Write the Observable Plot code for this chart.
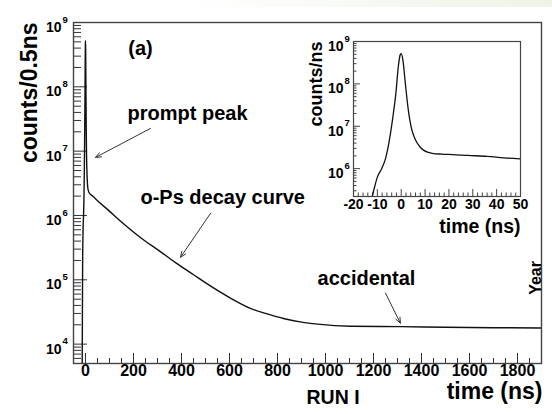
<!DOCTYPE html>
<html><head><meta charset="utf-8">
<script src="https://cdn.jsdelivr.net/npm/d3@7"></script>
<script src="https://cdn.jsdelivr.net/npm/@observablehq/plot@0.6"></script>
<style>
body{margin:0;background:#fff;}
#wrap{position:relative;width:552px;height:414px;overflow:hidden;}
#band{position:absolute;left:0;top:0;width:552px;height:7px;background:linear-gradient(to right,#ffffff 35%,#eef3e6);}
#main{position:absolute;left:0;top:0;}
#inset{position:absolute;left:300px;top:0;}
</style></head><body>
<div id="wrap"><div id="band"></div><div id="main"></div><div id="inset"></div></div>
<script>
// ---- data ----
const mainTime = [-14, -12, -10, -8, -6.5, -5, -3.6, -2.2, -1.2, -0.4, 0, 0.7, 1.7, 2.9, 4.3, 6.5, 9.5, 14, 30, 50, 96, 150, 237, 300, 375, 450, 512, 604, 687, 750, 825, 900, 967, 1104, 1312, 1500, 1700, 1900];
const mainCounts = [3e3, 1.8e5, 6.3e5, 1.05e6, 1.8e6, 4.6e6, 1.5e7, 6.3e7, 2.6e8, 4.9e8, 5.2e8, 3.7e8, 1.07e8, 2.6e7, 8.9e6, 4.2e6, 2.7e6, 2.3e6, 2.0e6, 1.7e6, 1.2e6, 7.9e5, 4.3e5, 2.95e5, 1.85e5, 1.2e5, 8.4e4, 5.2e4, 3.6e4, 3.0e4, 2.5e4, 2.2e4, 2.05e4, 1.9e4, 1.87e4, 1.83e4, 1.8e4, 1.78e4];
const insetTime = [-12.5, -11, -10, -8, -6.5, -5, -3.6, -2.2, -1.2, -0.4, 0, 0.7, 1.7, 2.9, 4.3, 5.5, 6.5, 8, 9.5, 11, 13, 17, 21.5, 28, 36, 43, 50];
const insetCounts = [1.8e5, 4.0e5, 6.3e5, 1.05e6, 1.8e6, 4.6e6, 1.5e7, 6.3e7, 2.6e8, 4.9e8, 5.2e8, 3.7e8, 1.07e8, 2.6e7, 8.9e6, 5.5e6, 4.2e6, 3.2e6, 2.7e6, 2.45e6, 2.3e6, 2.2e6, 2.15e6, 2.05e6, 1.95e6, 1.8e6, 1.7e6];
const mainXTicks = [0, 200, 400, 600, 800, 1000, 1200, 1400, 1600, 1800];
const mainYExponents = [4, 5, 6, 7, 8, 9];
const insetXTicks = [-20, -10, 0, 10, 20, 30, 40, 50];
const insetYExponents = [6, 7, 8, 9];

const FONT = '"Liberation Sans", Arial, Helvetica, sans-serif';
const mainData = mainTime.map((t, i) => ({t, c: mainCounts[i]}));
const insetData = insetTime.map((t, i) => ({t, c: insetCounts[i]}));

function minorLog(lo, hi) {
  const out = [];
  for (let e = Math.floor(Math.log10(lo)); e <= Math.ceil(Math.log10(hi)); e++)
    for (let m = 2; m <= 9; m++) { const v = m * 10 ** e; if (v >= lo && v <= hi) out.push(v); }
  return out;
}
const mainMinorX = d3.range(-50, 1901, 50).filter(v => v % 200 !== 0);
const mainMinorY = minorLog(5e3, 1e9);
const insetMinorX = d3.range(-20, 51, 2).filter(v => v % 10 !== 0);
const insetMinorY = minorLog(2.2e5, 1e9);
const noText = () => "";
const ink = "#111";

// inward ticks: draw outward tick then shift it inside by its own length
const inX = (ticks, len, stroke) => Plot.axisX(ticks, {tickSize: len, dy: -len, tickFormat: noText, label: null, stroke});
const inY = (ticks, len, stroke) => Plot.axisY(ticks, {tickSize: len, dx: len, tickFormat: noText, label: null, stroke});

const main = Plot.plot({
  width: 552, height: 414,
  marginLeft: 73, marginRight: 11, marginTop: 22, marginBottom: 51,
  style: {background: "transparent", fontFamily: FONT, fontWeight: "bold", color: "#000", overflow: "visible"},
  x: {domain: [-50, 1900], label: null},
  y: {type: "log", domain: [5e3, 1e9], label: null},
  marks: [
    inX(mainXTicks, 10, "#333"),
    inX(mainMinorX, 5, "#333"),
    inY(mainYExponents.map(e => 10 ** e), 14, "#333"),
    inY(mainMinorY, 8, "#333"),
    Plot.frame({stroke: "#444", strokeWidth: 1.4}),
    Plot.line(mainData, {x: "t", y: "c", stroke: ink, strokeWidth: 1.4, clip: true, curve: "monotone-x"}),
    Plot.text(mainXTicks, {x: d => d, frameAnchor: "bottom", dy: 12, text: d => String(d), fontSize: 16, fill: "#000"}),
    Plot.text(mainYExponents, {y: d => 10 ** d, frameAnchor: "left", dx: -12, dy: 5, text: () => "10", textAnchor: "end", fontSize: 14}),
    Plot.text(mainYExponents, {y: d => 10 ** d, frameAnchor: "left", dx: -11, dy: -3, text: d => String(d), textAnchor: "start", fontSize: 9.5}),
    Plot.text(["counts/0.5ns"], {frameAnchor: "top-left", dx: -53, rotate: -90, textAnchor: "end", fontSize: 23, text: d => d}),
    Plot.text(["time (ns)"], {frameAnchor: "bottom-right", dx: 1, dy: 35, textAnchor: "end", fontSize: 23, text: d => d}),
    Plot.text(["RUN I"], {frameAnchor: "bottom-left", dx: 233, dy: 40, fontSize: 19.5, text: d => d}),
    Plot.text(["Year"], {frameAnchor: "right", dx: -6, dy: 68, rotate: -90, fontSize: 16, text: d => d}),
    Plot.text(["(a)"], {x: 229, y: 3.95e8, fontSize: 20, text: d => d}),
    Plot.text(["prompt peak"], {x: 175, y: 3.87e7, textAnchor: "start", fontSize: 20, text: d => d}),
    Plot.text(["o-Ps decay curve"], {x: 229, y: 1.92e6, textAnchor: "start", fontSize: 20, text: d => d}),
    Plot.text(["accidental"], {x: 967, y: 1.06e5, textAnchor: "start", fontSize: 20, text: d => d}),
    Plot.arrow([0], {x1: 271, y1: 2.26e7, x2: 42, y2: 8.0e6, stroke: "#333", strokeWidth: 1, headLength: 9, headAngle: 45}),
    Plot.arrow([0], {x1: 521, y1: 1.08e6, x2: 396, y2: 2.24e5, stroke: "#333", strokeWidth: 1, headLength: 9, headAngle: 45}),
    Plot.arrow([0], {x1: 1250, y1: 6.2e4, x2: 1312, y2: 2.12e4, stroke: "#333", strokeWidth: 1, headLength: 9, headAngle: 45})
  ]
});
document.getElementById("main").appendChild(main);

const inset = Plot.plot({
  width: 225, height: 240,
  marginLeft: 53, marginRight: 5, marginTop: 41, marginBottom: 44,
  style: {background: "transparent", fontFamily: FONT, fontWeight: "bold", color: "#000", overflow: "visible"},
  x: {domain: [-20, 50], label: null},
  y: {type: "log", domain: [2.2e5, 1e9], label: null},
  marks: [
    inX(insetXTicks, 7, "#444"),
    inX(insetMinorX, 3.5, "#444"),
    inY(insetYExponents.map(e => 10 ** e), 7, "#444"),
    inY(insetMinorY, 3.5, "#444"),
    Plot.frame({stroke: "#444", strokeWidth: 1.2}),
    Plot.line(insetData, {x: "t", y: "c", stroke: ink, strokeWidth: 1.3, clip: true, curve: "monotone-x"}),
    Plot.text(insetXTicks, {x: d => d, frameAnchor: "bottom", dy: 12, text: d => String(d), fontSize: 14}),
    Plot.text(insetYExponents, {y: d => 10 ** d, frameAnchor: "left", dx: -10, dy: 5, text: () => "10", textAnchor: "end", fontSize: 14}),
    Plot.text(insetYExponents, {y: d => 10 ** d, frameAnchor: "left", dx: -9, dy: -3, text: d => String(d), textAnchor: "start", fontSize: 9.5}),
    Plot.text(["counts/ns"], {frameAnchor: "top-left", dx: -44, rotate: -90, textAnchor: "end", fontSize: 18, text: d => d}),
    Plot.text(["time (ns)"], {frameAnchor: "bottom-right", dx: 0, dy: 36, textAnchor: "end", fontSize: 19.5, text: d => d})
  ]
});
document.getElementById("inset").appendChild(inset);
</script>
</body></html>
